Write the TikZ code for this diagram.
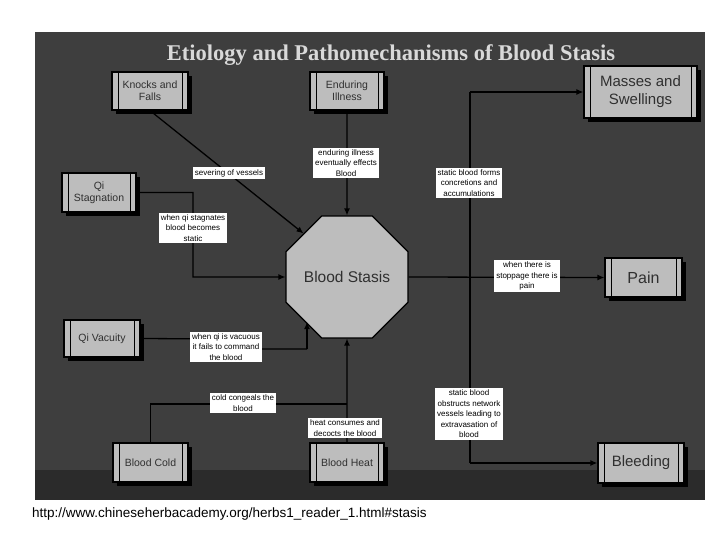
\documentclass[tikz,border=0pt]{standalone}
\usepackage{fontspec}
\setmainfont{Liberation Sans}
\newfontfamily\titlefont{Liberation Serif}
\usetikzlibrary{shapes.geometric,arrows.meta}
\definecolor{bg}{HTML}{3E3E3E}
\definecolor{boxfill}{HTML}{BDBDBD}
\definecolor{boxtext}{HTML}{303030}
\tikzset{
  proc/.style={draw=black, line width=1.2pt, fill=boxfill, text=boxtext, align=center,
    minimum width=#1, inner sep=1pt,
    path picture={\draw[line width=1pt] ([xshift=6pt]path picture bounding box.north west) -- ([xshift=6pt]path picture bounding box.south west);
      \draw[line width=1pt] ([xshift=-6pt]path picture bounding box.north east) -- ([xshift=-6pt]path picture bounding box.south east);},
    font=\fontsize{10.5}{12}\selectfont},
  shad/.style={fill=black},
  oct/.style={regular polygon, regular polygon sides=8, minimum size=122pt, inner sep=0pt},
  lab/.style={fill=white, text=black, align=center, inner sep=2pt, font=\fontsize{8}{10.5}\selectfont},
  conn/.style={draw=black, line width=1.3pt},
  arr/.style={conn, -{Latex[length=7pt,width=6pt]}}
}
\begin{document}
\begin{tikzpicture}[x=1pt,y=-1pt]
\useasboundingbox (0,0) rectangle (720,540);
\fill[white] (0,0) rectangle (720,540);
\fill[bg] (35,32) rectangle (705,500);
\fill[black!60!bg,opacity=0.5] (35,470) rectangle (705,500);
\node[text=black!15, font=\titlefont\bfseries\fontsize{22.5}{25}\selectfont] (title) at (391,55) {Etiology and Pathomechanisms of Blood Stasis};
\node[anchor=west, inner sep=0pt, font=\fontsize{13.5}{15}\selectfont] (url) at (32,514) {http://www.chineseherbacademy.org/herbs1\_reader\_1.html\#stasis};

% shadows
\foreach \a/\b/\c/\d in {112/72/188/110, 310/72/384/110, 584/66/697/118, 62/173/136/212, 64/320/140/357, 605/258/682/297, 113/443/188/482, 310/443/384/482, 598/443/684/483}{
  \fill[shad] (\a+4,\b+4) rectangle (\c+4,\d+4);}
\node[oct, fill=black] at (350,280) {};

\node[proc=76pt, minimum height=38pt] (kf) at (150,91) {Knocks and\\Falls};
\node[proc=74pt, minimum height=38pt] (ei) at (347,91) {Enduring\\Illness};
\node[proc=113pt, minimum height=52pt, font=\fontsize{15}{18}\selectfont] (ms) at (640.5,92) {Masses and\\Swellings};
\node[proc=74pt, minimum height=39pt] (qs) at (99,192.5) {Qi\\Stagnation};
\node[proc=76pt, minimum height=37pt] (qv) at (102,338.5) {Qi Vacuity};
\node[proc=77pt, minimum height=39pt, font=\fontsize{16}{18}\selectfont] (pain) at (643.5,277.5) {Pain};
\node[proc=75pt, minimum height=39pt] (bc) at (150.5,462.5) {Blood Cold};
\node[proc=74pt, minimum height=39pt] (bh) at (347,462.5) {Blood Heat};
\node[proc=86pt, minimum height=40pt, font=\fontsize{15}{17}\selectfont] (bl) at (641,463) {Bleeding};
\node[oct, draw=black, line width=1.2pt, fill=boxfill, text=boxtext, font=\fontsize{15.5}{17}\selectfont] (bs) at (347,277) {Blood Stasis};

\coordinate (t1) at (470,92);
\coordinate (t2) at (470,463);
\coordinate (qvb) at (307,349);
\coordinate (bcj) at (347,404);

\draw[arr] (kf.south) -- (bs.north west);
\draw[arr] (ei.south) -- (bs.north);
\draw[arr] (qs.east) -| (193,277) -- (bs.west);
\draw[conn] (qv.east) -- (230,339) -- (230,349) -- (qvb);
\draw[arr] (qvb) -- (307,322);
\draw[conn] (bc.north) |- (bcj);
\draw[arr] (bh.north) -- (bs.south);
\draw[arr] (bs.east) -- (pain.west);
\draw[conn] (t1) -- (t2);
\draw[arr] (t1) -- (ms.west);
\draw[arr] (t2) -- (bl.west);

\node[lab] (l1) at (229,173) {severing of vessels};
\node[lab] (l2) at (346,163) {enduring illness\\eventually effects\\Blood};
\node[lab] (l3) at (193,228) {when qi stagnates\\blood becomes\\static};
\node[lab] (l4) at (469,183) {static blood forms\\concretions and\\accumulations};
\node[lab] (l5) at (527,276) {when there is\\stoppage there is\\pain};
\node[lab] (l6) at (226,347) {when qi is vacuous\\it fails to command\\the blood};
\node[lab] (l7) at (243,403) {cold congeals the\\blood};
\node[lab] (l8) at (345,428) {heat consumes and\\decocts the blood};
\node[lab] (l9) at (469,414) {static blood\\obstructs network\\vessels leading to\\extravasation of\\blood};
\end{tikzpicture}
\end{document}
